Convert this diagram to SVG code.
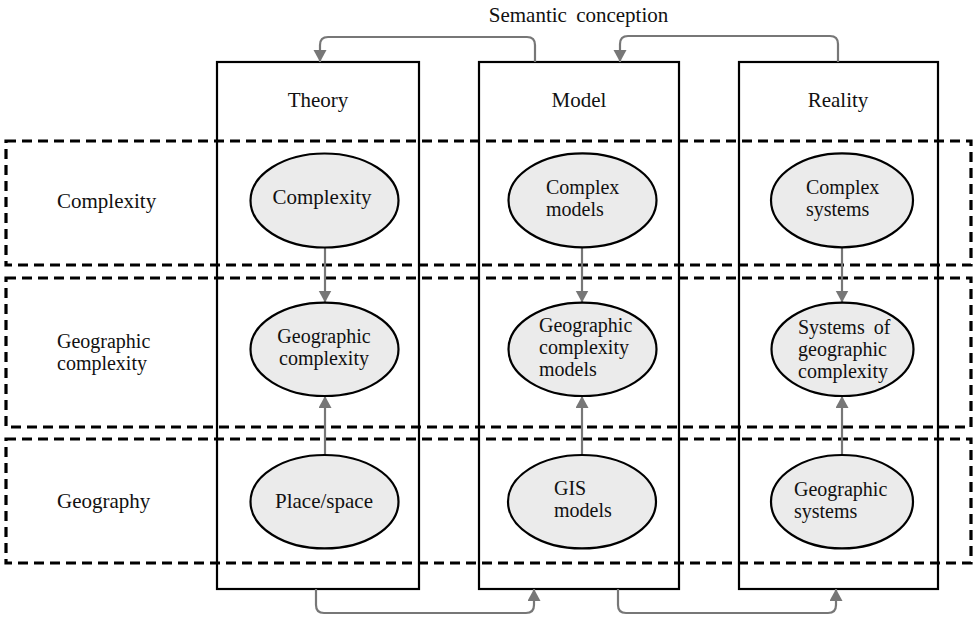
<svg xmlns="http://www.w3.org/2000/svg" width="978" height="617" viewBox="0 0 978 617">
<style>
text{font-family:"Liberation Serif","Times New Roman",serif;font-size:20px;fill:#111}
.big{font-size:21px}
.col{fill:none;stroke:#000;stroke-width:2.2}
.band{fill:none;stroke:#000;stroke-width:3.2;stroke-dasharray:10,6}
.ell{fill:#ebebeb;stroke:#000;stroke-width:2.2}
.con{fill:none;stroke:#777;stroke-width:2.2}
.mid{text-anchor:middle}
</style>
<defs>
<marker id="ah" markerUnits="userSpaceOnUse" markerWidth="14" markerHeight="14" refX="12" refY="6.5" orient="auto">
<path d="M0,0 L12,6.5 L0,13 z" fill="#777"/>
</marker>
</defs>
<rect width="978" height="617" fill="#fff"/>
<text class="mid big" x="578.5" y="22" word-spacing="4">Semantic conception</text>
<g id="col-theory"><rect class="col" x="217" y="62" width="202" height="527"/><text class="mid big" x="318" y="107">Theory</text></g>
<g id="col-model"><rect class="col" x="479" y="62" width="200" height="527"/><text class="mid big" x="579" y="107">Model</text></g>
<g id="col-reality"><rect class="col" x="739" y="62" width="199" height="527"/><text class="mid big" x="838" y="107">Reality</text></g>
<g id="band-complexity"><rect class="band" x="6" y="141" width="965" height="124"/><text class="big" x="57" y="208">Complexity</text></g>
<g id="band-geocomplexity"><rect class="band" x="6" y="278" width="965" height="149"/><text x="57" y="348">Geographic</text><text x="57" y="370">complexity</text></g>
<g id="band-geography"><rect class="band" x="6" y="439" width="965" height="124"/><text class="big" x="57" y="508">Geography</text></g>
<g id="connectors">
<path class="con" d="M535,62 V45 Q535,37 527,37 H328 Q320,37 320,45 V62" marker-end="url(#ah)"/>
<path class="con" d="M838,62 V44 Q838,36 830,36 H628 Q620,36 620,44 V62" marker-end="url(#ah)"/>
<path class="con" d="M316,589 V605 Q316,613 324,613 H526 Q534,613 534,605 V589" marker-end="url(#ah)"/>
<path class="con" d="M618,589 V605 Q618,613 626,613 H828 Q836,613 836,605 V589" marker-end="url(#ah)"/>
<path class="con" d="M325,247.5 V302.5" marker-end="url(#ah)"/>
<path class="con" d="M325,455 V396" marker-end="url(#ah)"/>
<path class="con" d="M582,247.5 V302.5" marker-end="url(#ah)"/>
<path class="con" d="M582,455 V396" marker-end="url(#ah)"/>
<path class="con" d="M842,247.5 V302.5" marker-end="url(#ah)"/>
<path class="con" d="M842,455 V396" marker-end="url(#ah)"/>
</g>
<g id="n-complexity"><ellipse class="ell" cx="324.5" cy="200.5" rx="74" ry="47"/><text class="mid big" x="322" y="204">Complexity</text></g>
<g id="n-geocomplexity"><ellipse class="ell" cx="324.5" cy="349.3" rx="74" ry="46.7"/><text class="mid" x="324" y="343">Geographic</text><text class="mid" x="324" y="365">complexity</text></g>
<g id="n-placespace"><ellipse class="ell" cx="324.5" cy="501.7" rx="74" ry="46.7"/><text class="mid big" x="324" y="508">Place/space</text></g>
<g id="n-complexmodels"><ellipse class="ell" cx="582.5" cy="200.3" rx="74" ry="47"/><text x="546" y="194">Complex</text><text x="546" y="216">models</text></g>
<g id="n-geocomplexmodels"><ellipse class="ell" cx="582.5" cy="349.3" rx="74" ry="46.7"/><text x="539" y="332">Geographic</text><text x="539" y="354">complexity</text><text x="539" y="376">models</text></g>
<g id="n-gismodels"><ellipse class="ell" cx="582" cy="501.7" rx="74" ry="46.7"/><text x="554" y="495">GIS</text><text x="554" y="517">models</text></g>
<g id="n-complexsystems"><ellipse class="ell" cx="842" cy="200.3" rx="71" ry="47"/><text x="806" y="194">Complex</text><text x="806" y="216">systems</text></g>
<g id="n-sysgeocomplexity"><ellipse class="ell" cx="842.5" cy="349.3" rx="71" ry="46.7"/><text x="798" y="334" word-spacing="4">Systems of</text><text x="798" y="356">geographic</text><text x="798" y="378">complexity</text></g>
<g id="n-geosystems"><ellipse class="ell" cx="842" cy="501.7" rx="71" ry="46.7"/><text x="794" y="496">Geographic</text><text x="794" y="518">systems</text></g>
</svg>
